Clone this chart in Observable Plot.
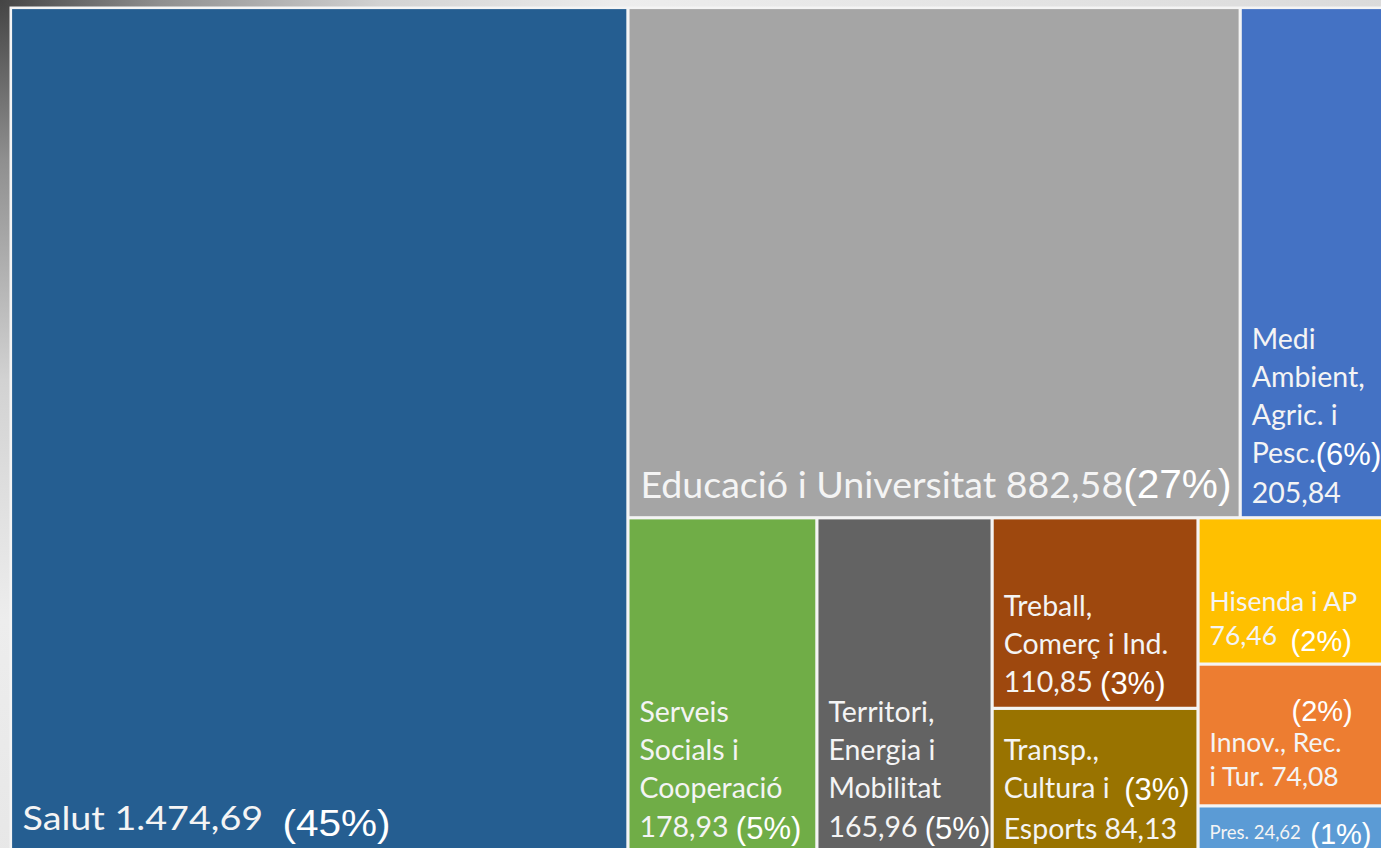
<!DOCTYPE html>
<html><head><meta charset="utf-8">
<script src="https://cdn.jsdelivr.net/npm/d3@7"></script>
<script src="https://cdn.jsdelivr.net/npm/@observablehq/plot@0.6"></script>
<style>
html,body{margin:0;padding:0;overflow:hidden;}
body{width:1381px;height:848px;background:radial-gradient(circle at 0 0,#444 0px,#8f8f8f 160px,#d2d2d2 380px,#ededed 620px,#dadada 1400px);}
#chart svg text{white-space:pre;}
</style></head><body><div id="chart"></div>
<script>
// ---- data ----
const categories = ["Salut","Educació i Universitat","Medi Ambient, Agric. i Pesc.","Serveis Socials i Cooperació","Territori, Energia i Mobilitat","Treball, Comerç i Ind.","Transp., Cultura i Esports","Hisenda i AP","Innov., Rec. i Tur.","Pres."];
const values = [1474.69, 882.58, 205.84, 178.93, 165.96, 110.85, 84.13, 76.46, 74.08, 24.62];
const labelTemplates = [
  "Salut {v}  {p}",
  "Educació i Universitat {v}{p}",
  "Medi\nAmbient,\nAgric. i\nPesc.{p}\n{v}",
  "Serveis\nSocials i\nCooperació\n{v} {p}",
  "Territori,\nEnergia i\nMobilitat\n{v} {p}",
  "Treball,\nComerç i Ind.\n{v} {p}",
  "Transp.,\nCultura i  {p}\nEsports {v}",
  "Hisenda i AP\n{v}  {p}",
  "Innov., Rec.\ni Tur. {v}",
  "Pres. {v}  {p}"
];
// nesting of the tiles (indices into categories)
const layoutTree = [0, [[1, 2], [3, 4, [5, 6], [7, 8, 9]]]];

// ---- styles ----
const colors = ["#255e91","#a5a5a5","#4472c4","#70ad47","#636363","#9e480e","#997300","#ffc000","#ed7d31","#5b9bd5"];
const labelGroup = ["salut","educ","block","block","block","block","block","side","side","tiny"];
const labelStyles = {
  salut: {font: 33.5, lh: 1.2, dx: 11.5, dy: -24, pct: 36, pctShift: 6, textLength: 368},
  educ:  {font: 37, lh: 1.2, dx: 12, dy: -20, pct: 40, textLength: 591},
  block: {font: 28.5, lh: 1.335, dx: 11, dy: -17, pct: 31, pctShift: 2},
  side:  {font: 26.5, lh: 1.28, dx: 11, dy: -20, pct: 29, pctShift: 6},
  tiny:  {font: 18.5, lh: 1.2, dx: 11, dy: -15, pct: 29, pctShift: 5}
};
const LABEL_FONT = "Lato, 'Open Sans', sans-serif";
const PCT_FONT = "'Liberation Sans', Arial, sans-serif";
const OPEN = "\uE000", CLOSE = "\uE001";

const total = d3.sum(values);
const loc = d3.formatLocale({decimal: ",", thousands: ".", grouping: [3], currency: ["", "€"]});
const fmt = loc.format(",.2f");
const pctText = i => "(" + Math.round(values[i] / total * 100) + "%)";
const labelText = d => labelTemplates[d.i].replace("{v}", fmt(values[d.i])).replace("{p}", OPEN + pctText(d.i) + CLOSE);

const root = d3.hierarchy(layoutTree, d => Array.isArray(d) ? d : null)
  .sum(d => Array.isArray(d) ? 0 : values[d]);
d3.treemap().tile(d3.treemapSliceDice).size([1, 1]).round(false)(root);
const cells = root.leaves().map(n => ({i: n.data, name: categories[n.data], value: values[n.data], x0: n.x0, x1: n.x1, y0: n.y0, y1: n.y1}));

const groupsOrder = ["salut", "educ", "block", "side", "tiny"];
const textMarks = groupsOrder.map(g => {
  const st = labelStyles[g];
  return Plot.text(cells.filter(d => labelGroup[d.i] === g), {
    x: "x0", y: "y1", text: labelText, textAnchor: "start", lineAnchor: "bottom",
    dx: st.dx, dy: st.dy, fontSize: st.font, lineHeight: st.lh, fontFamily: LABEL_FONT, fill: "#f4f4f4"
  });
});

const svg = Plot.plot({
  width: 1381, height: 848, margin: 0,
  style: {background: "transparent", overflow: "hidden"},
  x: {domain: [0, 1], range: [10.5, 1383], axis: null},
  y: {domain: [0, 1], range: [7.5, 853], axis: null},
  color: {type: "identity"},
  marks: [
    Plot.rect([root], {x1: d => d.x0, x2: d => d.x1, y1: d => d.y0, y2: d => d.y1, fill: "#f4f4f4", inset: -1}),
    Plot.rect(cells, {x1: "x0", x2: "x1", y1: "y0", y2: "y1", fill: d => colors[d.i], inset: 1.6}),
    ...textMarks,
    Plot.text(cells.filter(d => d.i === 8), {x: "x0", y: "y1", text: d => pctText(d.i), textAnchor: "start", lineAnchor: "bottom",
      dx: 93, dy: -85, fontSize: 29, fontFamily: PCT_FONT, fill: "#ffffff"})
  ]
});
document.getElementById("chart").append(svg);

// percentage pieces in their own font
const textGroups = svg.querySelectorAll('g[aria-label="text"]');
groupsOrder.forEach((g, k) => {
  const st = labelStyles[g];
  const gEl = textGroups[k];
  if (!gEl) return;
  gEl.querySelectorAll("text, tspan").forEach(el => {
    for (const node of [...el.childNodes]) {
      if (node.nodeType !== 3 || !node.nodeValue.includes(OPEN)) continue;
      const [before, rest] = node.nodeValue.split(OPEN);
      const [pct, after] = rest.split(CLOSE);
      const parts = [];
      if (before) parts.push(document.createTextNode(before));
      const ts = document.createElementNS("http://www.w3.org/2000/svg", "tspan");
      ts.setAttribute("font-family", PCT_FONT);
      ts.setAttribute("font-size", st.pct);
      ts.setAttribute("fill", "#ffffff");
      if (st.pctShift) ts.setAttribute("dy", st.pctShift);
      ts.textContent = pct;
      parts.push(ts);
      if (after) parts.push(document.createTextNode(after));
      node.replaceWith(...parts);
    }
  });
  if (st.textLength) gEl.querySelectorAll("text").forEach(t => {
    t.setAttribute("textLength", st.textLength);
    t.setAttribute("lengthAdjust", "spacingAndGlyphs");
  });
});
</script></body></html>
